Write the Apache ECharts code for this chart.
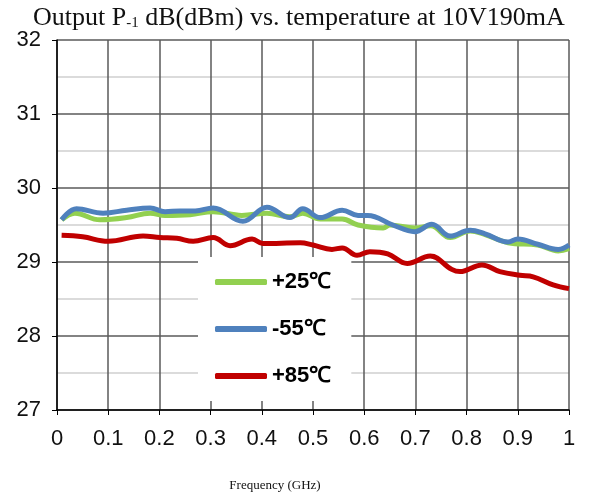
<!DOCTYPE html>
<html><head><meta charset="utf-8">
<script src="https://cdn.jsdelivr.net/npm/echarts@6/dist/echarts.min.js"></script>
<style>html,body{margin:0;padding:0;background:#fff}#c{width:589px;height:495px}</style>
</head><body><div id="c"></div>
<script>
var seriesNames = ['+25℃', '-55℃', '+85℃'];
var freqP25 = [0.009,0.035,0.084,0.136,0.182,0.211,0.26,0.305,0.361,0.410,0.455,0.48,0.514,0.557,0.588,0.637,0.650,0.699,0.73,0.768,0.807,0.836,0.881,0.939,0.979,1.0];
var valP25  = [29.57,29.66,29.57,29.60,29.66,29.63,29.64,29.68,29.63,29.66,29.61,29.66,29.58,29.58,29.50,29.46,29.50,29.46,29.49,29.33,29.42,29.37,29.26,29.23,29.15,29.18];
var freqM55 = [0.009,0.038,0.090,0.136,0.182,0.211,0.240,0.270,0.305,0.363,0.410,0.455,0.480,0.514,0.557,0.588,0.607,0.656,0.699,0.732,0.768,0.807,0.836,0.881,0.900,0.939,0.979,1.0];
var valM55  = [29.57,29.72,29.66,29.70,29.73,29.68,29.69,29.69,29.73,29.55,29.74,29.60,29.72,29.60,29.70,29.63,29.63,29.50,29.41,29.51,29.35,29.43,29.38,29.27,29.31,29.24,29.17,29.23];
var freqP85 = [0.009,0.05,0.10,0.168,0.201,0.234,0.266,0.305,0.338,0.381,0.402,0.475,0.50,0.537,0.557,0.586,0.611,0.646,0.684,0.729,0.771,0.787,0.830,0.865,0.904,0.930,0.969,1.0];
var valP85  = [29.36,29.34,29.28,29.35,29.33,29.32,29.28,29.33,29.22,29.31,29.25,29.26,29.23,29.17,29.19,29.09,29.14,29.11,28.98,29.08,28.90,28.87,28.96,28.87,28.82,28.80,28.69,28.64];
var xTicks = ['0','0.1','0.2','0.3','0.4','0.5','0.6','0.7','0.8','0.9','1'];

function pairs(xs, ys){ return xs.map(function(x,i){return [x, ys[i]];}); }

var chart = echarts.init(document.getElementById('c'));
var lineCommon = {type:'line', smooth:0.4, showSymbol:false, symbol:'none'};
chart.setOption({
  animation:false,
  backgroundColor:'#fff',
  title:{
    text:'{n|Output P}{s|-1}{n| dB(dBm) vs. temperature at 10V190mA}',
    left:28, top:0,
    textStyle:{fontWeight:'normal', rich:{
      n:{fontFamily:'Liberation Serif', fontSize:26, fontWeight:'normal', color:'#111'},
      s:{fontFamily:'Liberation Serif', fontSize:15, fontWeight:'normal', color:'#111', verticalAlign:'bottom', padding:[11,0,0,0]}
    }}
  },
  grid:{left:57, right:20, top:40, bottom:85, outerBoundsMode:'none', containLabel:false},
  xAxis:{
    type:'value', min:0, max:1, interval:0.1,
    name:'Frequency (GHz)', nameLocation:'middle', nameGap:69,
    nameTextStyle:{fontFamily:'Liberation Serif', fontSize:13, color:'#111', padding:[0,76,0,0]},
    axisLine:{show:true, lineStyle:{color:'#000', width:1.5}},
    axisTick:{show:true, length:5, lineStyle:{color:'#000'}},
    axisLabel:{fontFamily:'Liberation Sans', fontSize:22, color:'#111', margin:18,
      formatter:function(v){ var i=Math.round(v*10); return xTicks[i]; }},
    splitLine:{show:true, lineStyle:{color:'#5a5a5a', width:1.5}}
  },
  yAxis:{
    type:'value', min:27, max:32, interval:1,
    axisLine:{show:true, lineStyle:{color:'#000', width:1.5}},
    axisTick:{show:true, length:5, lineStyle:{color:'#000'}},
    axisLabel:{fontFamily:'Liberation Sans', fontSize:22, color:'#111', margin:16},
    splitLine:{show:true, lineStyle:{color:'#5a5a5a', width:1.5}},
    minorTick:{show:false, splitNumber:2},
    minorSplitLine:{show:true, lineStyle:{color:'#cfcfcf', width:1.5}}
  },
  legend:{
    orient:'vertical', left:198, top:257, width:155,
    backgroundColor:'#fff', borderWidth:0,
    padding:[12,20,12,17], itemGap:21,
    itemWidth:52, itemHeight:6, icon:'roundRect',
    textStyle:{fontFamily:'Liberation Sans', fontSize:22, fontWeight:'bold', color:'#000', lineHeight:26},
    data:seriesNames
  },
  series:[
    Object.assign({name:seriesNames[0], data:pairs(freqP25,valP25), color:'#92D050', lineStyle:{width:5, color:'#92D050'}, z:2}, lineCommon),
    Object.assign({name:seriesNames[1], data:pairs(freqM55,valM55), color:'#4F81BD', lineStyle:{width:5, color:'#4F81BD'}, z:3}, lineCommon),
    Object.assign({name:seriesNames[2], data:pairs(freqP85,valP85), color:'#C00000', lineStyle:{width:5, color:'#C00000'}, z:3}, lineCommon)
  ]
});
</script></body></html>
